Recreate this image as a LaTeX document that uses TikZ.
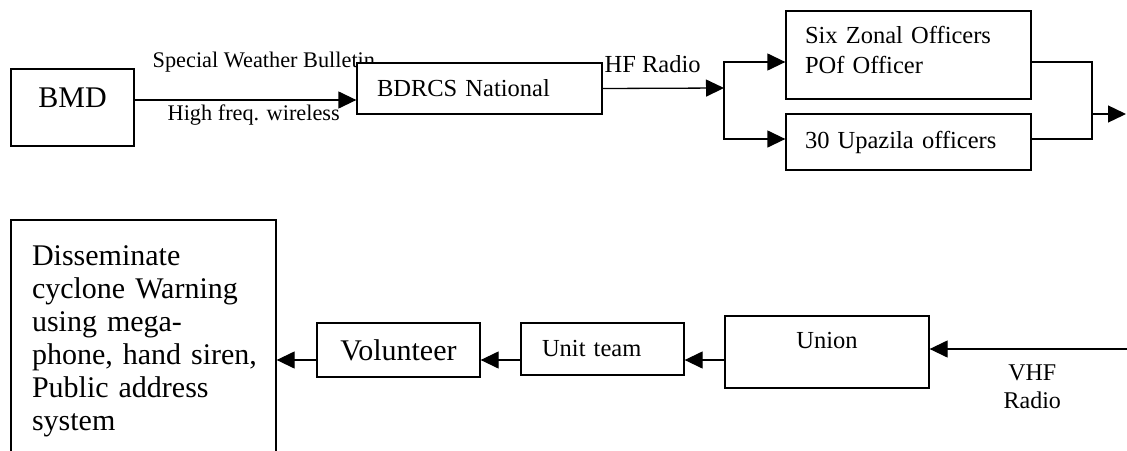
\documentclass[tikz,border=0pt]{standalone}
\usepackage{fontspec}
\setmainfont{Liberation Serif}
\usetikzlibrary{arrows.meta}

\begin{document}
\begin{tikzpicture}[x=1pt, y=-1pt, line width=1.3pt,
        box/.style={draw, fill=white, inner sep=0pt, align=left},
        arr/.style={-{Triangle[length=18pt,width=17pt]}},
        big/.style={font=\fontsize{30}{33}\selectfont},
        small/.style={font=\fontsize{24.5}{30}\selectfont},
        lbl/.style={inner sep=0pt, font=\fontsize{22.3}{26}\selectfont}]
        \useasboundingbox (0,0) rectangle (1127,450);
        \clip (0,0) rectangle (1127,450);

        % Arrow labels (the boxes are drawn over them)
        \node[lbl, anchor=base west] (swb) at (152,67) {Special Weather Bulletin};
        \node[lbl, anchor=base west] (hfw) at (167,120) {High freq. wireless};
        \node[lbl, anchor=base west, font=\fontsize{24.5}{28}\selectfont] (hf) at (604,72) {HF Radio};

        % Top row
        \node[box, big, minimum width=123pt, minimum height=77pt, text height=20pt, text depth=21pt] (bmd) at (72.5,107.5) {BMD};
        \node[box, small, minimum width=245pt, minimum height=51pt, text width=205pt, text height=17pt, text depth=2pt] (bdrcs) at (479.5,88.5) {BDRCS National};
        \node[box, small, minimum width=245pt, minimum height=88pt, text width=207pt, text height=17pt, text depth=41pt] (six) at (908.5,55) {Six Zonal Officers\\POf Officer};
        \node[box, small, minimum width=245pt, minimum height=56pt, text width=207pt, text height=17pt, text depth=5pt] (upa) at (908.5,142) {30 Upazila officers};

        % Bottom row
        \node[box, big, minimum width=265pt, minimum height=250pt, text width=223pt, text height=20pt, text depth=180pt] (diss) at (143.5,345) {Disseminate\\cyclone Warning\\using mega-\\\mbox{phone, hand siren,}\\Public address\\system};
        \node[box, big, minimum width=163pt, minimum height=54pt, text height=20pt, text depth=0pt] (vol) at (398.5,350) {Volunteer};
        \node[box, small, minimum width=163pt, minimum height=52pt, text width=121pt, text height=17pt, text depth=3pt] (unit) at (602.5,349) {Unit team};
        \node[box, small, minimum width=204pt, minimum height=72pt, text height=17pt, text depth=25pt] (union) at (827,352) {Union};

        % Helper points
        \coordinate (row1) at (0,100);
        \coordinate (row2) at (0,360);
        \coordinate (split) at (724,88);
        \coordinate (join) at (1092,114);
        \coordinate (out) at (1126,114);
        \coordinate (vhfin) at (1127,349);

        % Connections, top
        \draw[arr] (bmd.east |- row1) -- (bdrcs.west |- row1);
        \draw[arr] (bdrcs.east) -- (split);
        \draw[arr] (split) |- ([yshift=-7pt]six.west);
        \draw[arr] (split) |- ([yshift=3pt]upa.west);
        \draw ([yshift=-7pt]six.east) -| (join);
        \draw ([yshift=3pt]upa.east) -| (join);
        \draw[arr] (join) -- (out);

        % Connections, bottom
        \draw[arr] (vhfin) -- node[pos=0.48, below=15.5pt, inner sep=0pt, align=center, font=\fontsize{24}{28}\selectfont] (vhf) {VHF\\Radio} ([yshift=3pt]union.east);
        \draw[arr] (union.west |- row2) -- (unit.east |- row2);
        \draw[arr] (unit.west |- row2) -- (vol.east |- row2);
        \draw[arr] (vol.west |- row2) -- (diss.east |- row2);
\end{tikzpicture}
\end{document}
